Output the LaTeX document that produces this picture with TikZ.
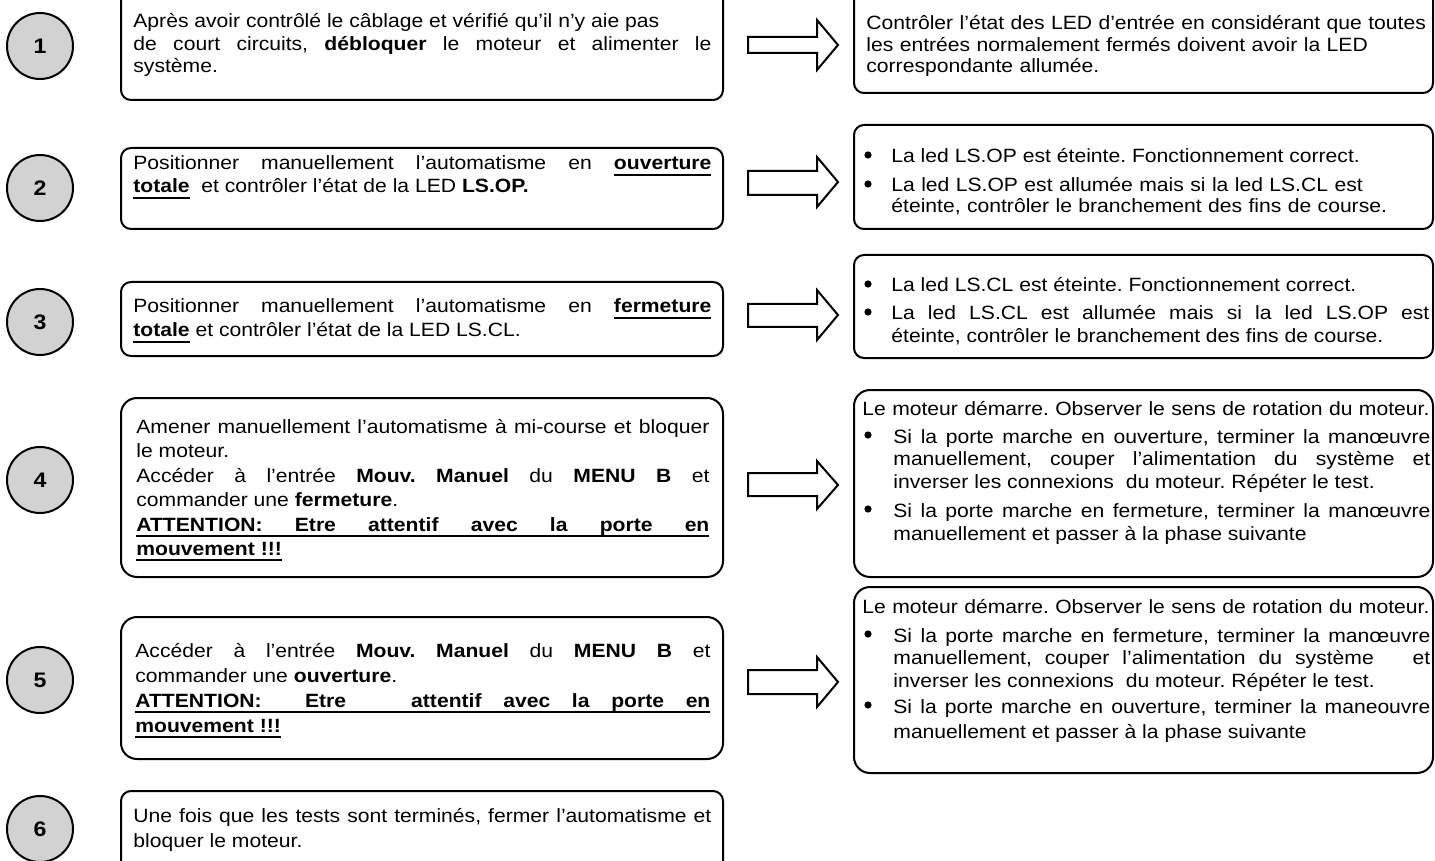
\documentclass[tikz,border=0pt]{standalone}
\usepackage{fontspec}
\setmainfont{Liberation Sans}[FakeStretch=1.1]
\newcommand{\ulw}[1]{\setbox0\hbox{#1}\rlap{\vrule height -1.8pt depth 2.8pt width \wd0}\box0\relax}
\newcommand{\ulsp}{\leaders\hrule height -1.8pt depth 2.8pt\hskip\fontdimen2\font plus\fontdimen3\font minus\fontdimen4\font\relax}
\newcommand{\ulbf}[1]{\ulw{\bfseries #1}}
\frenchspacing

\begin{document}
\begin{tikzpicture}[x=0.5pt,y=-0.5pt,
	numcirc/.style={circle,draw,line width=1pt,fill=gray!35,minimum size=33pt,inner sep=0pt,font=\bfseries\fontsize{10.5}{12}\selectfont},
	boxtxt/.style={anchor=base west,inner sep=0pt,align=justify,font=\fontsize{9.6}{#1}\selectfont},
	lefttxt/.style={boxtxt=#1,text width=289pt},
	righttxt/.style={boxtxt=#1,text width=269pt},
	boxframe/.style={line width=1pt,rounded corners=#1},
	blockarrow/.style={line width=1pt,line join=miter}]
	\clip (0,0) rectangle (1435,861);

	\node[numcirc] (s1) at (40,46) {1};
	\node[numcirc] (s2) at (40,188) {2};
	\node[numcirc] (s3) at (40,322) {3};
	\node[numcirc] (s4) at (40,480) {4};
	\node[numcirc] (s5) at (40,680) {5};
	\node[numcirc] (s6) at (40,829) {6};

	\draw[boxframe=5pt] (121,-10) rectangle (723,100);
	\draw[boxframe=5pt] (121,148) rectangle (723,229);
	\draw[boxframe=5pt] (121,282) rectangle (723,356);
	\draw[boxframe=8pt] (121,398) rectangle (723,577);
	\draw[boxframe=8pt] (121,617) rectangle (723,759);
	\draw[boxframe=5pt] (121,791) rectangle (723,880);

	\draw[boxframe=5pt] (854,-10) rectangle (1433,93);
	\draw[boxframe=5pt] (854,125) rectangle (1433,229);
	\draw[boxframe=5pt] (854,255) rectangle (1433,358);
	\draw[boxframe=8pt] (854,390) rectangle (1433,577);
	\draw[boxframe=8pt] (854,587) rectangle (1433,773);

	\draw[blockarrow] (748,37) -- (817,37) -- (817,20) -- (838,45) -- (817,70) -- (817,53) -- (748,53) -- cycle;
	\draw[blockarrow] (748,171) -- (817,171) -- (817,157) -- (838,182) -- (817,207) -- (817,195) -- (748,195) -- cycle;
	\draw[blockarrow] (748,304) -- (817,304) -- (817,290) -- (838,315) -- (817,340) -- (817,327) -- (748,327) -- cycle;
	\draw[blockarrow] (748,473) -- (817,473) -- (817,461) -- (838,485) -- (817,509) -- (817,496) -- (748,496) -- cycle;
	\draw[blockarrow] (748,670) -- (817,670) -- (817,657) -- (838,682) -- (817,707) -- (817,694) -- (748,694) -- cycle;

	\node[lefttxt=11.25pt] (t1) at (133,28) {Après avoir contrôlé le câblage et vérifié qu’il n’y aie pas\\ de court circuits, \textbf{débloquer} le moteur et alimenter le\linebreak système.};
	\node[lefttxt=11.5pt] (t2) at (133,170) {Positionner manuellement l’automatisme en \ulbf{ouverture}\linebreak \ulbf{totale}\ \ et contrôler l’état de la LED \textbf{LS.OP.}};
	\node[lefttxt=12pt] (t3) at (133,313) {Positionner manuellement l’automatisme en \ulbf{fermeture}\linebreak \ulbf{totale} et contrôler l’état de la LED LS.CL.};
	\node[lefttxt=12.25pt,text width=286.5pt] (t4) at (136,433) {Amener manuellement l’automatisme à mi-course et bloquer\linebreak le moteur.\\ Accéder à l’entrée \textbf{Mouv. Manuel} du \textbf{MENU B} et\linebreak commander une \textbf{fermeture}.\\ {\bfseries\ulw{ATTENTION:}\ulsp\ulw{Etre}\ulsp\ulw{attentif}\ulsp\ulw{avec}\ulsp\ulw{la}\ulsp\ulw{porte}\ulsp\ulw{en}\linebreak \ulw{mouvement}\ulsp\ulw{!!!}}};
	\node[lefttxt=12.5pt,text width=287.5pt] (t5) at (135,657) {Accéder à l’entrée \textbf{Mouv. Manuel} du \textbf{MENU B} et\linebreak commander une \textbf{ouverture}.\\ {\bfseries\ulw{ATTENTION:}\ulsp\ulsp\ulw{Etre}\ulsp\ulsp\ulsp\ulw{attentif}\ulsp\ulw{avec}\ulsp\ulw{la}\ulsp\ulw{porte}\ulsp\ulw{en}\linebreak \ulw{mouvement}\ulsp\ulw{!!!}}};
	\node[lefttxt=12.5pt] (t6) at (133,822) {Une fois que les tests sont terminés, fermer l’automatisme et\linebreak bloquer le moteur.};

	\node[boxtxt=10.75pt,align=left,text width=290pt] (r1) at (866,30) {Contrôler l’état des LED d’entrée en considérant que toutes\\ les entrées normalement fermés doivent avoir la LED\\ correspondante allumée.};

	\fill (868,155) circle (1.8pt);
	\fill (868,184) circle (1.8pt);
	\node[righttxt=10.5pt,text width=275pt] (r2a) at (891,163) {La led LS.OP est éteinte. Fonctionnement correct.};
	\node[righttxt=10.5pt,align=left,text width=275pt] (r2b) at (891,192) {La led LS.OP est allumée mais si la led LS.CL est\\ éteinte, contrôler le branchement des fins de course.};

	\fill (868,284) circle (1.8pt);
	\fill (868,312) circle (1.8pt);
	\node[righttxt=11.5pt,text width=275pt] (r3a) at (891,292) {La led LS.CL est éteinte. Fonctionnement correct.};
	\node[righttxt=11.5pt] (r3b) at (891,320) {La led LS.CL est allumée mais si la led LS.OP est\linebreak éteinte, contrôler le branchement des fins de course.};

	\node[boxtxt=11pt,align=left,text width=285pt] (r4h) at (862,415) {Le moteur démarre. Observer le sens de rotation du moteur.};
	\fill (868,435) circle (1.8pt);
	\fill (868,509) circle (1.8pt);
	\node[righttxt=11.25pt,text width=268.5pt] (r4a) at (893,443) {Si la porte marche en ouverture, terminer la manœuvre\linebreak manuellement, couper l’alimentation du système et\linebreak inverser les connexions\ \ du moteur. Répéter le test.};
	\node[righttxt=11.5pt,text width=268.5pt] (r4b) at (893,517) {Si la porte marche en fermeture, terminer la manœuvre\linebreak manuellement et passer à la phase suivante};

	\node[boxtxt=11pt,align=left,text width=285pt] (r5h) at (862,613) {Le moteur démarre. Observer le sens de rotation du moteur.};
	\fill (868,634) circle (1.8pt);
	\fill (868,705) circle (1.8pt);
	\node[righttxt=11.25pt,text width=268.5pt] (r5a) at (893,642) {Si la porte marche en fermeture, terminer la manœuvre\linebreak manuellement, couper l’alimentation du système\ \ \ et\linebreak inverser les connexions\ \ du moteur. Répéter le test.};
	\node[righttxt=12.5pt,text width=268.5pt] (r5b) at (893,713) {Si la porte marche en ouverture, terminer la maneouvre\linebreak manuellement et passer à la phase suivante};
\end{tikzpicture}
\end{document}
